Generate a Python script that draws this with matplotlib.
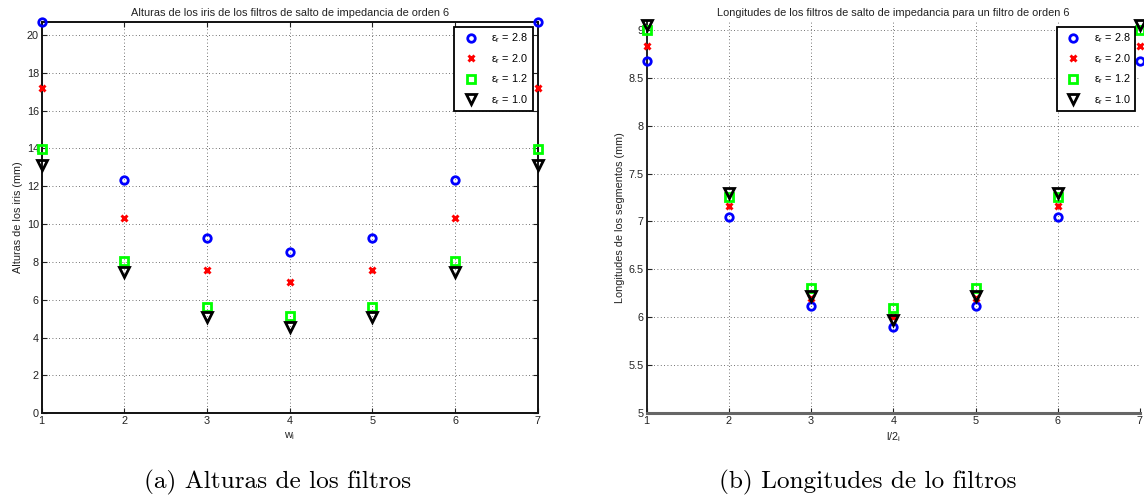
import matplotlib
matplotlib.use("Agg")
import matplotlib.pyplot as plt

plt.rcParams['font.family'] = ['Liberation Sans', 'DejaVu Sans']
plt.rcParams['mathtext.fontset'] = 'custom'
plt.rcParams['mathtext.rm'] = 'Liberation Sans'

# Posición de cada elemento del filtro
posiciones = [1, 2, 3, 4, 5, 6, 7]

# Alturas de los iris (mm) para cada permitividad
alturas_28 = [20.68, 12.35, 9.25, 8.55, 9.25, 12.35, 20.68]
alturas_20 = [17.2, 10.3, 7.58, 6.93, 7.58, 10.3, 17.2]
alturas_12 = [13.97, 8.07, 5.64, 5.12, 5.64, 8.07, 13.97]
alturas_10 = [13.1, 7.46, 5.11, 4.55, 5.11, 7.46, 13.1]

# Longitudes de los segmentos (mm) para cada permitividad
longitudes_28 = [8.67, 7.045, 6.12, 5.90, 6.12, 7.045, 8.67]
longitudes_20 = [8.83, 7.157, 6.20, 6.00, 6.20, 7.157, 8.83]
longitudes_12 = [9.00, 7.26, 6.307, 6.094, 6.307, 7.26, 9.00]
longitudes_10 = [9.045, 7.30, 6.22, 5.976, 6.22, 7.30, 9.045]

etiquetas = [r'ε$_\mathregular{r}$ = 2.8', r'ε$_\mathregular{r}$ = 2.0',
             r'ε$_\mathregular{r}$ = 1.2', r'ε$_\mathregular{r}$ = 1.0']

ticks_alturas = [0, 2, 4, 6, 8, 10, 12, 14, 16, 18, 20]
ticks_longitudes = [5, 5.5, 6, 6.5, 7, 7.5, 8, 8.5, 9]
ticks_longitudes_txt = ['5', '5.5', '6', '6.5', '7', '7.5', '8', '8.5', '9']

estilos = [
    dict(marker='o', color='#0000ff', mfc='none', mec='#0000ff', ms=5.4, mew=2.0),
    dict(marker='x', color='#ff0000', mfc='none', mec='#ff0000', ms=4.2, mew=2.1),
    dict(marker='s', color='#00ff00', mfc='none', mec='#00ff00', ms=5.8, mew=2.0),
    dict(marker='v', color='#000000', mfc='none', mec='#000000', ms=7.8, mew=2.0),
]

fig = plt.figure(figsize=(11.44, 4.97), dpi=100)
ax1 = fig.add_axes([0.03645, 0.1684, 0.4336, 0.7873])
ax2 = fig.add_axes([0.5653, 0.1684, 0.4312, 0.7873])

fs_tick = 7.8
grid_kw = dict(color='#444444', linestyle=(0, (1, 3)), linewidth=0.6)


def dibujar(ax, series, titulo, xlabel, ylabel):
    for datos, est, lab in zip(series, estilos, etiquetas):
        ax.plot(posiciones, datos, linestyle='none', label=lab,
                clip_on=False, zorder=5, **est)
    ax.set_xlim(1, 7)
    ax.set_xticks(posiciones)
    ax.grid(True, **grid_kw)
    ax.set_axisbelow(True)
    ax.tick_params(direction='in', length=3.5, width=0.8, labelsize=fs_tick,
                   pad=2, colors='#222222')
    ax.set_title(titulo, fontsize=7.9, pad=4, color='#222222')
    ax.set_xlabel(xlabel, fontsize=fs_tick, labelpad=3, color='#222222')
    ax.set_ylabel(ylabel, fontsize=fs_tick, labelpad=3, color='#222222')
    leg = ax.legend(loc='upper right', fontsize=fs_tick, frameon=True,
                    fancybox=False, framealpha=1, edgecolor='black',
                    borderaxespad=0.45, handlelength=2.2, handletextpad=0.8,
                    labelspacing=0.62, borderpad=0.42)
    leg.get_frame().set_linewidth(1.3)
    leg.set_zorder(10)
    return leg


dibujar(ax1, [alturas_28, alturas_20, alturas_12, alturas_10],
        'Alturas de los iris de los filtros de salto de impedancia de orden 6',
        r'w$_\mathregular{i}$', 'Alturas de los iris (mm)')
ax1.set_ylim(0, max(alturas_28))
ax1.set_yticks(ticks_alturas)
ax1.tick_params(top=True, right=True)
for s in ax1.spines.values():
    s.set_linewidth(1.4)
    s.set_color('#111111')

dibujar(ax2, [longitudes_28, longitudes_20, longitudes_12, longitudes_10],
        'Longitudes de los filtros de salto de impedancia para un filtro de orden 6',
        r'l/2$_\mathregular{i}$', 'Longitudes de los segmentos (mm)')
ax2.set_ylim(5, 9.08)
ax2.set_yticks(ticks_longitudes)
ax2.set_yticklabels(ticks_longitudes_txt)
ax2.spines['top'].set_visible(False)
ax2.spines['right'].set_visible(False)
ax2.spines['left'].set_linewidth(1.4)
ax2.spines['left'].set_color('#222222')
ax2.spines['bottom'].set_linewidth(2.2)
ax2.spines['bottom'].set_color('#666666')

# Pies de figura
fig.text(0.2424, 0.017, '(a) Alturas de los filtros', family='cmr10',
         fontsize=18.2, ha='center', va='baseline')
fig.text(0.7587, 0.017, '(b) Longitudes de lo filtros', family='cmr10',
         fontsize=18.2, ha='center', va='baseline')

fig.savefig('out.png', dpi=100)
